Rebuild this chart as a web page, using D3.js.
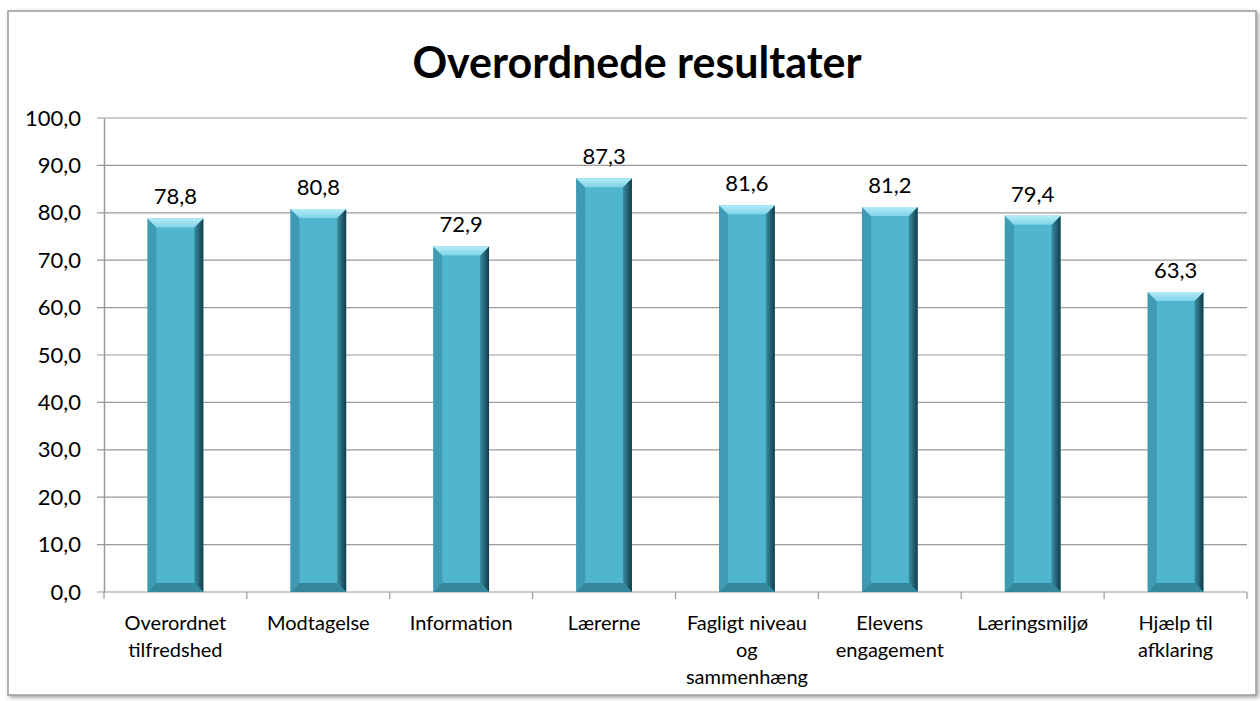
<!DOCTYPE html>
<html>
<head>
<meta charset="utf-8">
<script src="https://cdn.jsdelivr.net/npm/d3@7"></script>
<style>
  body { margin: 0; background: #fff; }
  svg { display: block; font-family: Lato, "Open Sans", sans-serif; }
</style>
</head>
<body>
<svg class="chart"></svg>
<script>
const categories = ["Overordnet tilfredshed", "Modtagelse", "Information", "Lærerne",
  "Fagligt niveau og sammenhæng", "Elevens engagement", "Læringsmiljø", "Hjælp til afklaring"];
// wrapped lines as they appear under the axis
const categoryLines = [["Overordnet", "tilfredshed"], ["Modtagelse"], ["Information"], ["Lærerne"],
  ["Fagligt niveau", "og", "sammenhæng"], ["Elevens", "engagement"], ["Læringsmiljø"], ["Hjælp til", "afklaring"]];
const values = [78.8, 80.8, 72.9, 87.3, 81.6, 81.2, 79.4, 63.3];
const yTicks = [0, 10, 20, 30, 40, 50, 60, 70, 80, 90, 100];

const width = 1260;
const height = 701;

const svg = d3.select('.chart')
  .attr('width', width)
  .attr('height', height);

const defs = svg.append('defs');
const shadow = defs.append('filter').attr('id', 'shadow')
  .attr('x', '-5%').attr('y', '-5%').attr('width', '110%').attr('height', '110%');
shadow.append('feDropShadow').attr('dx', 2).attr('dy', 2).attr('stdDeviation', 2)
  .attr('flood-color', '#000').attr('flood-opacity', 0.35);

const rightGrad = defs.append('linearGradient').attr('id', 'rightSide')
  .attr('x1', 0).attr('x2', 1).attr('y1', 0).attr('y2', 0);
rightGrad.append('stop').attr('offset', 0).attr('stop-color', '#3a8ea4');
rightGrad.append('stop').attr('offset', 1).attr('stop-color', '#123c48');

const topGrad = defs.append('linearGradient').attr('id', 'topSide')
  .attr('x1', 0).attr('x2', 0).attr('y1', 0).attr('y2', 1);
topGrad.append('stop').attr('offset', 0).attr('stop-color', '#b4ecf8');
topGrad.append('stop').attr('offset', 1).attr('stop-color', '#7fd3e8');

// chart frame
svg.append('rect')
  .attr('x', 8).attr('y', 11).attr('width', 1248).attr('height', 684)
  .attr('fill', '#fff').attr('stroke', '#9a9a9a').attr('stroke-width', 1.5)
  .attr('filter', 'url(#shadow)');

svg.append('text')
  .attr('x', 637).attr('y', 78)
  .attr('text-anchor', 'middle')
  .attr('font-size', 43).attr('font-weight', 'bold')
  .attr('fill', '#000')
  .text('Overordnede resultater');

const margin = {left: 104, top: 118, right: 13, bottom: 109};
const innerWidth = width - margin.left - margin.right;
const innerHeight = height - margin.top - margin.bottom;

const x = d3.scaleBand().domain(categories).range([0, innerWidth]).paddingInner(0.61).paddingOuter(0.305);
const y = d3.scaleLinear().domain([0, 100]).range([innerHeight, 0]);

const g = svg.append('g').attr('transform', `translate(${margin.left},${margin.top})`);

// gridlines
g.append('g').selectAll('line').data(yTicks).enter().append('line')
  .attr('x1', -7).attr('x2', innerWidth)
  .attr('y1', d => y(d)).attr('y2', d => y(d))
  .attr('stroke', '#9a9a9a').attr('stroke-width', 1.2);

// y axis
const yAxis = d3.axisLeft(y).tickValues(yTicks).tickSize(0).tickPadding(23)
  .tickFormat(d => d3.format('.1f')(d).replace('.', ','));
const yg = g.append('g').call(yAxis);
yg.select('.domain').attr('stroke', '#9a9a9a').attr('stroke-width', 1.5);
yg.selectAll('text').attr('font-size', 22).attr('font-family', 'Lato, sans-serif').attr('fill', '#000');

// x axis ticks at category boundaries
const step = x.step();
const bounds = d3.range(categories.length + 1).map(i => i * step);
g.append('g').selectAll('line').data(bounds).enter().append('line')
  .attr('x1', d => d).attr('x2', d => d)
  .attr('y1', innerHeight).attr('y2', innerHeight + 7)
  .attr('stroke', '#9a9a9a').attr('stroke-width', 1.2);

// bars with bevel
const bw = x.bandwidth();
const bev = 9;
const bars = g.append('g').selectAll('g').data(values).enter().append('g')
  .attr('transform', (d, i) => `translate(${x(categories[i])},0)`);

bars.append('rect')
  .attr('x', 0).attr('width', bw)
  .attr('y', d => y(d)).attr('height', d => innerHeight - y(d))
  .attr('fill', '#50b6d0');
// left side
bars.append('polygon')
  .attr('points', d => {
    const t = y(d), b = innerHeight;
    return `0,${t} ${bev},${t + bev} ${bev},${b - bev} 0,${b}`;
  })
  .attr('fill', '#3e9bb3');
// right side
bars.append('polygon')
  .attr('points', d => {
    const t = y(d), b = innerHeight;
    return `${bw},${t} ${bw - bev},${t + bev} ${bw - bev},${b - bev} ${bw},${b}`;
  })
  .attr('fill', 'url(#rightSide)');
// bottom
bars.append('polygon')
  .attr('points', () => {
    const b = innerHeight;
    return `0,${b} ${bev},${b - bev} ${bw - bev},${b - bev} ${bw},${b}`;
  })
  .attr('fill', '#35889c');
// top
bars.append('polygon')
  .attr('points', d => {
    const t = y(d);
    return `0,${t} ${bw},${t} ${bw - bev},${t + bev} ${bev},${t + bev}`;
  })
  .attr('fill', 'url(#topSide)');

// value labels
bars.append('text')
  .attr('x', bw / 2).attr('y', d => y(d) - 14)
  .attr('text-anchor', 'middle')
  .attr('font-size', 22).attr('fill', '#000')
  .text(d => d3.format('.1f')(d).replace('.', ','));

// category labels
categoryLines.forEach((lines, i) => {
  lines.forEach((line, j) => {
    g.append('text')
      .attr('x', x(categories[i]) + bw / 2)
      .attr('y', innerHeight + 38 + j * 27)
      .attr('text-anchor', 'middle')
      .attr('font-size', 20).attr('fill', '#000')
      .text(line);
  });
});
</script>
</body>
</html>
